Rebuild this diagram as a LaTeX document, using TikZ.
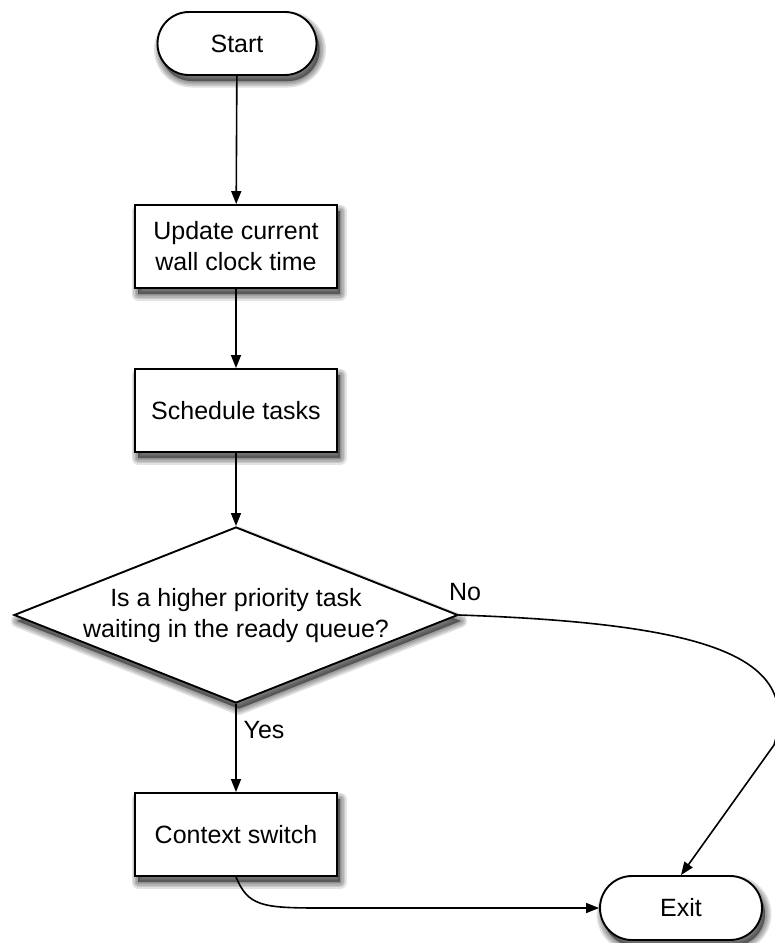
\documentclass[tikz,border=0pt]{standalone}
\usepackage{fontspec}
\setmainfont{Liberation Sans}
\usetikzlibrary{arrows.meta,shapes.geometric}

\tikzset{
  % soft drop shadow built from stacked translucent copies of the shape
  shadowlayer/.style={preaction={fill=black, draw=black, line width=#1,
      line join=round, opacity=0.11,
      transform canvas={shift={(3pt,-6pt)}}}},
  soft shadow/.style={shadowlayer=13pt, shadowlayer=10pt, shadowlayer=7pt,
      shadowlayer=4pt, shadowlayer=1pt},
  flowtext/.style={font=\fontsize{25}{31}\selectfont, align=center},
  terminal/.style={draw, line width=1.9pt, fill=white, rounded corners=31.5pt,
      minimum width=159pt, minimum height=63pt, inner sep=0pt, soft shadow, flowtext},
  process/.style={draw, line width=1.9pt, fill=white,
      minimum width=202pt, minimum height=83pt, inner sep=0pt, soft shadow, flowtext},
  decision/.style={draw, line width=1.9pt, fill=white, diamond,
      minimum width=444pt, minimum height=176pt, inner sep=0pt, soft shadow},
  flow/.style={line width=1.6pt, -{Triangle[length=13pt, width=10pt]}},
  edgelabel/.style={flowtext}
}

\begin{document}
\begin{tikzpicture}[x=1pt, y=-1pt]
  \useasboundingbox (0,0) rectangle (775,943);

  % nodes
  \node[terminal] (start) at (237,43.5) {Start};
  \node[process] (update) at (236,246.5) {Update current\\wall clock time};
  \node[process] (sched) at (236,410.5) {Schedule tasks};
  \node[decision] (dec) at (236,615) {};
  \node[flowtext] (dectext) at (236,616) {Is a higher priority task\\waiting in the ready queue?};
  \node[process] (ctx) at (236,834.5) {Context switch};
  \node[terminal, minimum width=162pt, rounded corners=32pt, minimum height=64pt] (exit) at (681,908) {Exit};

  % labels on the branches
  \node[edgelabel] (yes) at (264,730) {Yes};
  \node[edgelabel] (no) at (465,592) {No};

  % connectors
  \draw[flow] (start) -- (update);
  \draw[flow] (update) -- (sched);
  \draw[flow] (sched) -- (dec.north);
  \draw[flow] (dec.south) -- (ctx);
  \draw[flow] (ctx.south) .. controls (248,906) and (262,908) .. (320,908) -- (exit.west);
  \coordinate (bend) at (774,745);
  \draw[flow] (dec.east) .. controls (720,624) and (800,660) .. (bend) -- (exit.north);
\end{tikzpicture}
\end{document}
